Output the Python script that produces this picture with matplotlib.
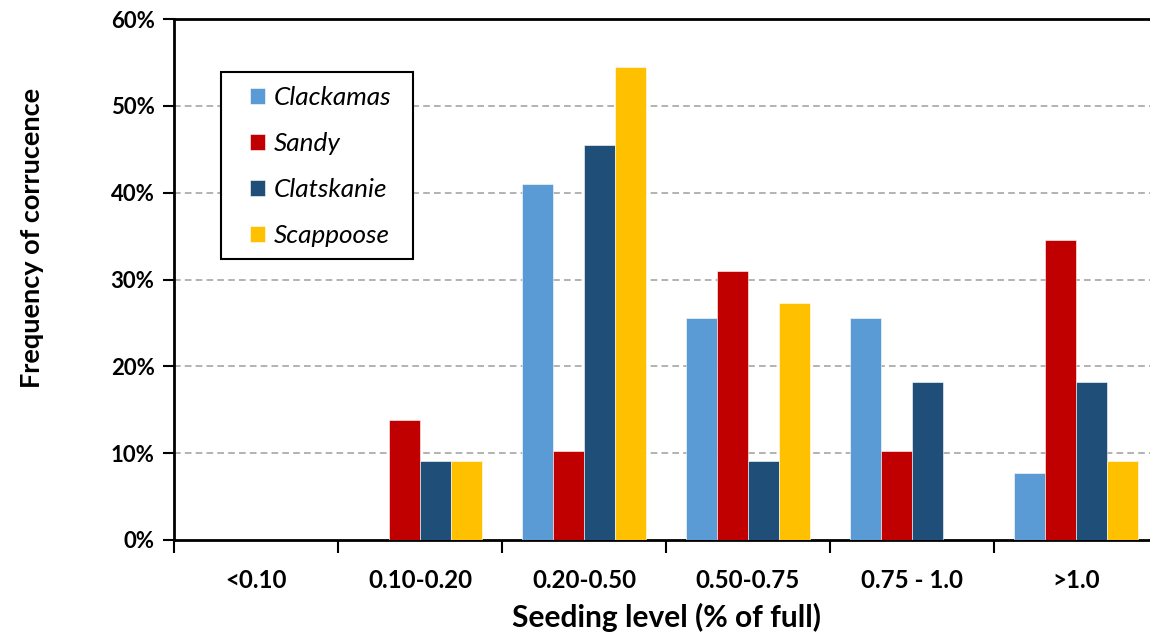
import numpy as np
import matplotlib.pyplot as plt
from matplotlib.patches import Rectangle
from matplotlib.ticker import PercentFormatter

plt.rcParams['font.family'] = ['Lato', 'DejaVu Sans']

categories = ["<0.10", "0.10-0.20", "0.20-0.50", "0.50-0.75", "0.75 - 1.0", ">1.0"]
series_names = ["Clackamas", "Sandy", "Clatskanie", "Scappoose"]
colors = ["#5B9BD5", "#C00000", "#1F4E79", "#FFC000"]

# frequency of occurrence (%) per seeding level
clackamas = [0, 0, 41.0, 25.6, 25.6, 7.7]
sandy = [0, 13.8, 10.3, 31.0, 10.3, 34.5]
clatskanie = [0, 9.1, 45.5, 9.1, 18.2, 18.2]
scappoose = [0, 9.1, 54.5, 27.3, 0, 9.1]
values = [clackamas, sandy, clatskanie, scappoose]

fig = plt.figure(figsize=(11.5, 6.33), dpi=100)
ax = fig.add_axes([174 / 1150, 1 - 540 / 633, 984 / 1150, 521 / 633])

x = np.arange(len(categories))
bar_w = 0.19
for i, (name, vals, c) in enumerate(zip(series_names, values, colors)):
    offs = (i - 1.5) * bar_w
    ax.bar(x + offs, vals, width=bar_w, color=c, label=name, zorder=3,
           edgecolor='white', linewidth=0.4)

ax.set_xlim(-0.5, len(categories) - 0.5)
ax.set_ylim(0, 60)
ax.set_yticks(np.arange(0, 61, 10))
ax.yaxis.set_major_formatter(PercentFormatter(decimals=0))

# category labels centred, tick marks on the boundaries
ax.set_xticks(np.arange(-0.5, len(categories), 1.0))
ax.set_xticklabels([])
ax.set_xticks(x, minor=True)
ax.set_xticklabels(categories, minor=True)
ax.tick_params(axis='x', which='minor', length=0, pad=21, labelsize=17.3)
ax.tick_params(axis='x', which='major', length=9, width=1.5, direction='out')
ax.tick_params(axis='y', length=8, width=1.5, direction='out', labelsize=16, pad=6)
for lab in ax.get_xticklabels(minor=True) + ax.get_yticklabels():
    lab.set_fontweight('bold')

for gy in range(10, 60, 10):
    ax.axhline(gy, color='#A6A6A6', linestyle=(0, (4, 2.5)), linewidth=1.2, zorder=1)

ax.spines['right'].set_visible(False)
for s in ['left', 'bottom', 'top']:
    ax.spines[s].set_linewidth(2)
    ax.spines[s].set_color('black')

ax.set_xlabel("Seeding level (% of full)", fontsize=21.5, fontweight='bold')
ax.set_ylabel("Frequency of corrucence", fontsize=19.5, fontweight='bold')
ax.xaxis.set_label_coords(0.5, -0.148)
ax.xaxis.label.set_va('center')
ax.yaxis.set_label_coords(-0.144, 0.58)
ax.yaxis.label.set_va('center')

# legend frame drawn separately so the padding can differ per side
ax.add_patch(Rectangle((47 / 984, 281 / 521), 192 / 984, 187 / 521, transform=ax.transAxes,
                       facecolor='white', edgecolor='black', linewidth=1.5, zorder=4))
leg = ax.legend(loc='upper left', bbox_to_anchor=(76 / 984, 454 / 521), borderaxespad=0,
                borderpad=0, frameon=False, prop={'style': 'italic', 'size': 18.8},
                handlelength=0.58, handleheight=0.58, handletextpad=0.32, labelspacing=0.88)
leg.set_zorder(5)

fig.savefig("out.png", dpi=100)
